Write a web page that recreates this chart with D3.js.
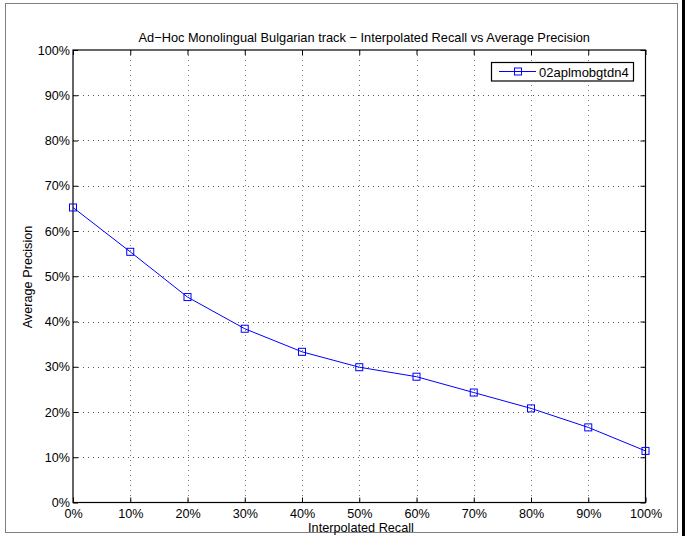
<!DOCTYPE html>
<html><head><meta charset="utf-8">
<script src="https://cdn.jsdelivr.net/npm/d3@7"></script>
<style>html,body{margin:0;padding:0;background:#fff}svg{display:block}</style>
</head><body>
<script>
const recall = [0, 0.1, 0.2, 0.3, 0.4, 0.5, 0.6, 0.7, 0.8, 0.9, 1.0];
const precision = [0.652, 0.554, 0.454, 0.384, 0.333, 0.299, 0.278, 0.243, 0.208, 0.166, 0.114];
const ticks = [0, 0.1, 0.2, 0.3, 0.4, 0.5, 0.6, 0.7, 0.8, 0.9, 1.0];
const tickLabels = ["0%","10%","20%","30%","40%","50%","60%","70%","80%","90%","100%"];
const seriesName = "02aplmobgtdn4";
const title = "Ad\u2212Hoc Monolingual Bulgarian track \u2212 Interpolated Recall vs Average Precision";
const xLabel = "Interpolated Recall";
const yLabel = "Average Precision";

const W = 685, H = 536;
const L = 73, R = 645.5, T = 50, B = 502.5;
const font = "'Liberation Sans', Arial, Helvetica, sans-serif";
const blue = "#0000ff";
const fs = "12.6px";

const svg = d3.select("body").append("svg").attr("width", W).attr("height", H)
  .style("font-family", font);

// figure frame
svg.append("rect").attr("x", 5.5).attr("y", 3.5).attr("width", 672).attr("height", 529)
  .attr("fill", "none").attr("stroke", "#808080").attr("stroke-width", 1);
svg.append("rect").attr("x", 682).attr("y", 0).attr("width", 3).attr("height", H).attr("fill", "#000");

const x = d3.scaleLinear().domain([0, 1]).range([L, R]);
const y = d3.scaleLinear().domain([0, 1]).range([B, T]);

// grid
const g = svg.append("g");
g.selectAll(".gx").data(ticks.slice(1, -1)).join("line")
  .attr("x1", d => Math.round(x(d)) + 0.5).attr("x2", d => Math.round(x(d)) + 0.5)
  .attr("y1", T).attr("y2", B)
  .attr("stroke", "#777").attr("stroke-width", 1).attr("stroke-dasharray", "1,4");
g.selectAll(".gy").data(ticks.slice(1, -1)).join("line")
  .attr("y1", d => Math.round(y(d)) + 0.5).attr("y2", d => Math.round(y(d)) + 0.5)
  .attr("x1", L).attr("x2", R)
  .attr("stroke", "#555").attr("stroke-width", 1).attr("stroke-dasharray", "1,4");

// axes with inward ticks
const fmt = (d) => tickLabels[ticks.indexOf(d)];
const axB = svg.append("g").attr("transform", `translate(0,${B})`)
  .call(d3.axisBottom(x).tickValues(ticks).tickFormat(fmt).tickSizeInner(-5).tickSizeOuter(0).tickPadding(10));
const axT = svg.append("g").attr("transform", `translate(0,${T})`)
  .call(d3.axisTop(x).tickValues(ticks).tickFormat("").tickSizeInner(-5).tickSizeOuter(0));
const axL = svg.append("g").attr("transform", `translate(${L},0)`)
  .call(d3.axisLeft(y).tickValues(ticks).tickFormat(fmt).tickSizeInner(-5).tickSizeOuter(0).tickPadding(3));
const axR = svg.append("g").attr("transform", `translate(${R},0)`)
  .call(d3.axisRight(y).tickValues(ticks).tickFormat("").tickSizeInner(-5).tickSizeOuter(0));
[axB, axT, axL, axR].forEach(a => {
  a.select(".domain").remove();
  a.selectAll("line").attr("stroke", "#000");
  a.selectAll("text").attr("fill", "#000").style("font-size", fs).style("font-family", font);
});
axB.selectAll("text").attr("dy", "0.4em");

// box
svg.append("rect").attr("x", L).attr("y", T).attr("width", R - L).attr("height", B - T)
  .attr("fill", "none").attr("stroke", "#000").attr("stroke-width", 1.2);

// series
const pts = recall.map((r, i) => [r, precision[i]]);
svg.append("path").datum(pts)
  .attr("d", d3.line().x(d => x(d[0])).y(d => y(d[1])))
  .attr("fill", "none").attr("stroke", blue).attr("stroke-width", 1);
svg.selectAll(".mk").data(pts).join("rect")
  .attr("x", d => x(d[0]) - 3.5).attr("y", d => y(d[1]) - 3.5)
  .attr("width", 7).attr("height", 7)
  .attr("fill", "none").attr("stroke", blue).attr("stroke-width", 1);

// title & labels
svg.append("text").attr("x", (L + R) / 2 + 5).attr("y", 42).attr("text-anchor", "middle")
  .style("font-size", "12.8px").text(title);
svg.append("text").attr("x", 361).attr("y", 532).attr("text-anchor", "middle")
  .style("font-size", "12.7px").text(xLabel);
svg.append("text").attr("transform", "translate(32,277) rotate(-90)").attr("text-anchor", "middle")
  .style("font-size", "12.7px").text(yLabel);

// legend
const lg = svg.append("g");
lg.append("rect").attr("x", 491.5).attr("y", 62.5).attr("width", 142).attr("height", 18.5)
  .attr("fill", "#fff").attr("stroke", "#000").attr("stroke-width", 1.2);
lg.append("line").attr("x1", 499).attr("x2", 536).attr("y1", 71.5).attr("y2", 71.5)
  .attr("stroke", blue).attr("stroke-width", 1);
lg.append("rect").attr("x", 518 - 3.5).attr("y", 71.5 - 3.5).attr("width", 7).attr("height", 7)
  .attr("fill", "none").attr("stroke", blue).attr("stroke-width", 1);
lg.append("text").attr("x", 539).attr("y", 76.5).style("font-size", "13px").text(seriesName);
</script>
</body></html>
